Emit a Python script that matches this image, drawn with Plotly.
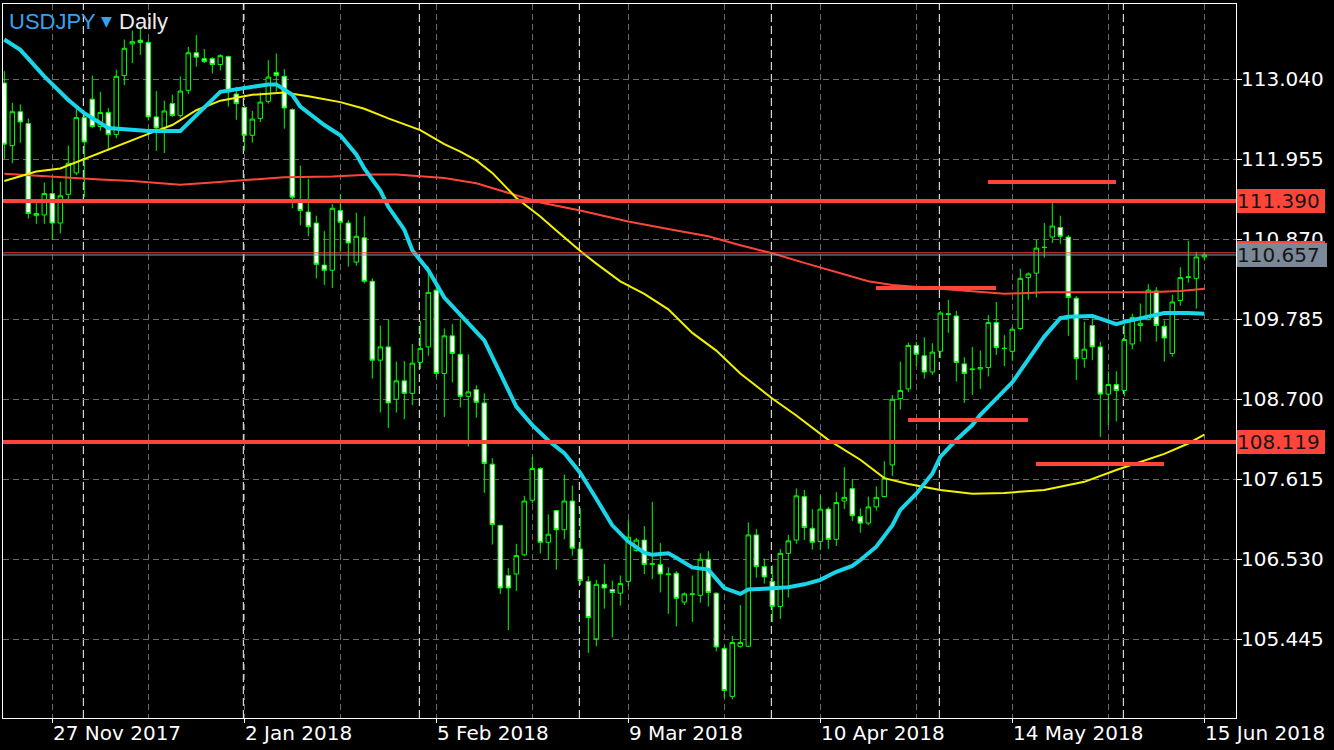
import plotly.graph_objects as go

# ---------------- data ----------------
bars = list(range(151))

opens = [112.99, 112.14, 112.60, 112.44, 111.19, 111.20, 111.49, 111.09, 111.48, 111.77,
         112.52, 112.77, 112.40, 112.59, 112.29, 113.09, 113.52, 113.57, 113.54, 112.53,
         112.38, 112.71, 112.55, 112.89, 113.40, 113.32, 113.32, 113.24, 113.35, 112.84,
         112.66, 112.28, 112.51, 112.74, 113.13, 113.08, 112.63, 111.38, 111.24, 111.09,
         110.52, 110.45, 111.26, 111.09, 110.56, 110.89, 110.30, 109.23, 109.41, 108.70,
         108.95, 108.78, 109.20, 109.41, 110.18, 109.05, 109.56, 109.31, 108.74, 108.83,
         108.65, 107.82, 106.99, 106.31, 106.33, 106.59, 107.33, 107.76, 106.76, 107.19,
         106.93, 107.32, 106.67, 106.23, 105.45, 106.19, 106.12, 106.07, 106.23, 106.65,
         106.79, 106.46, 106.46, 106.32, 106.34, 105.95, 106.05, 106.04, 106.53, 106.07,
         105.32, 104.67, 105.35, 105.35, 106.86, 106.43, 106.23, 105.89, 106.61, 106.79,
         107.38, 106.95, 106.77, 107.21, 106.80, 107.32, 107.49, 107.11, 107.02, 107.24,
         107.38, 107.81, 108.71, 108.84, 109.43, 109.29, 109.07, 109.35, 109.86, 109.83,
         109.18, 109.10, 109.11, 109.13, 109.74, 109.39, 109.35, 109.66, 110.35, 110.41,
         110.76, 110.90, 111.03, 110.90, 110.07, 109.25, 109.70, 109.41, 108.77, 108.90,
         108.82, 109.45, 109.70, 109.78, 110.17, 109.69, 109.32, 110.04, 110.35, 110.34,
         110.63]
highs = [113.15, 112.72, 112.70, 112.51, 111.40, 111.64, 111.68, 111.65, 112.14, 112.64,
         112.61, 113.09, 112.87, 112.65, 113.17, 113.58, 113.70, 113.74, 113.57, 112.88,
         112.75, 112.83, 113.08, 113.48, 113.64, 113.45, 113.34, 113.38, 113.36, 112.94,
         112.67, 112.61, 112.86, 113.30, 113.39, 113.18, 112.65, 111.87, 111.69, 111.19,
         110.98, 111.35, 111.48, 111.13, 111.23, 111.18, 110.34, 109.70, 109.78, 109.21,
         109.22, 109.45, 109.76, 110.50, 110.31, 109.66, 109.72, 109.79, 109.31, 108.89,
         108.78, 107.90, 107.00, 106.41, 106.74, 107.39, 107.92, 107.78, 107.14, 107.20,
         107.68, 107.53, 107.22, 106.30, 106.25, 106.47, 106.24, 106.31, 107.06, 106.82,
         106.98, 107.31, 106.75, 106.42, 106.37, 106.08, 106.31, 106.61, 106.64, 106.08,
         105.35, 105.49, 105.91, 107.03, 106.94, 106.54, 106.45, 106.67, 106.86, 107.49,
         107.47, 107.21, 107.40, 107.24, 107.44, 107.78, 107.62, 107.22, 107.38, 107.52,
         107.86, 108.76, 109.21, 109.47, 109.48, 109.54, 109.46, 109.90, 110.05, 109.90,
         109.27, 109.41, 109.36, 109.84, 110.02, 109.57, 109.68, 110.47, 110.42, 110.86,
         111.09, 111.37, 111.19, 110.93, 110.10, 109.75, 109.80, 109.48, 109.08, 109.08,
         109.72, 109.86, 110.00, 110.26, 110.22, 109.77, 110.12, 110.49, 110.85, 110.70,
         110.70]
lows = [111.96, 111.90, 112.18, 111.15, 111.08, 111.08, 110.86, 110.95, 111.36, 111.74,
        111.44, 112.38, 112.34, 112.07, 112.24, 112.96, 113.26, 113.37, 112.48, 112.07,
        112.04, 112.53, 112.52, 112.84, 113.21, 113.26, 113.12, 113.16, 112.67, 112.49,
        112.07, 112.18, 112.46, 112.71, 112.87, 112.37, 111.29, 111.06, 110.91, 110.34,
        110.25, 110.21, 110.70, 110.50, 110.51, 110.27, 108.98, 108.52, 108.31, 108.52,
        108.43, 108.62, 109.11, 109.29, 109.00, 108.46, 108.93, 108.59, 108.06, 108.45,
        107.43, 106.73, 106.06, 105.57, 106.10, 106.57, 107.29, 106.61, 106.53, 106.39,
        106.80, 106.58, 106.18, 105.26, 105.35, 105.86, 105.47, 105.90, 106.16, 106.63,
        106.33, 106.26, 106.08, 105.79, 105.62, 105.91, 105.68, 105.94, 105.89, 105.28,
        104.65, 104.63, 105.33, 105.34, 106.28, 106.20, 105.68, 105.72, 106.01, 106.74,
        106.79, 106.66, 106.66, 106.67, 106.71, 107.21, 107.05, 106.89, 106.99, 107.19,
        107.37, 107.66, 108.56, 108.80, 109.15, 108.98, 109.03, 109.26, 109.60, 108.94,
        108.65, 108.76, 108.84, 109.01, 109.30, 109.15, 109.22, 109.64, 110.05, 110.08,
        110.62, 110.82, 110.81, 109.56, 108.96, 109.13, 109.23, 108.19, 108.35, 108.40,
        108.74, 109.38, 109.48, 109.77, 109.48, 109.21, 109.28, 109.97, 110.28, 109.93,
        110.58]
closes = [112.16, 112.60, 112.46, 111.22, 111.22, 111.49, 111.09, 111.46, 111.90, 112.52,
          112.19, 112.40, 112.59, 112.29, 113.08, 113.46, 113.55, 113.54, 112.53, 112.38,
          112.61, 112.55, 112.88, 113.40, 113.34, 113.28, 113.24, 113.36, 112.87, 112.71,
          112.28, 112.50, 112.73, 113.07, 113.09, 112.65, 111.44, 111.26, 111.04, 110.53,
          110.45, 111.29, 111.10, 110.82, 110.91, 110.30, 109.23, 109.41, 108.65, 108.95,
          108.78, 109.19, 109.39, 110.15, 109.05, 109.56, 109.32, 108.74, 108.80, 108.66,
          107.83, 107.00, 106.14, 106.14, 106.58, 107.32, 107.76, 106.76, 106.87, 106.93,
          107.32, 106.68, 106.24, 105.74, 106.19, 106.14, 106.08, 106.20, 106.83, 106.79,
          106.46, 106.47, 106.33, 106.33, 106.00, 106.06, 106.06, 106.53, 106.08, 105.34,
          104.75, 105.40, 105.40, 106.86, 106.43, 106.29, 105.89, 106.61, 106.78, 107.39,
          106.96, 106.76, 107.21, 106.80, 107.30, 107.37, 107.12, 107.02, 107.24, 107.37,
          107.63, 108.70, 108.82, 109.43, 109.31, 109.07, 109.34, 109.87, 109.85, 109.20,
          109.05, 109.11, 109.13, 109.74, 109.40, 109.39, 109.65, 110.34, 110.40, 110.75,
          110.76, 111.05, 110.91, 110.08, 109.25, 109.38, 109.41, 108.77, 108.90, 108.82,
          109.51, 109.81, 109.73, 110.18, 109.70, 109.53, 110.02, 110.35, 110.36, 110.63,
          110.657]

# fast moving average (cyan)
ma_fast_bar = [0, 2, 5, 8, 10, 13, 18, 22, 27, 29, 31, 33, 34, 36, 37, 40, 42, 44, 45, 47,
               48, 50, 51, 53, 55, 57, 58, 60, 62, 64, 66, 68, 70, 72, 74, 76, 78, 80, 81, 83,
               84, 86, 88, 89, 90, 92, 93, 95, 98, 100, 102, 104, 106, 107, 109, 111, 112, 114,
               116, 117, 119, 121, 122, 126, 128, 130, 132, 133, 136, 138, 139, 140, 143, 145,
               148, 150]
ma_fast = [113.58, 113.44, 113.08, 112.76, 112.58, 112.38, 112.34, 112.34, 112.87, 112.90,
           112.93, 112.97, 112.97, 112.83, 112.67, 112.42, 112.28, 112.02, 111.83, 111.53,
           111.31, 111.00, 110.72, 110.45, 110.08, 109.84, 109.73, 109.50, 109.05, 108.60,
           108.35, 108.14, 107.97, 107.70, 107.35, 106.99, 106.77, 106.62, 106.59, 106.61,
           106.55, 106.42, 106.39, 106.27, 106.14, 106.06, 106.12, 106.13, 106.15, 106.19,
           106.25, 106.36, 106.44, 106.52, 106.70, 106.99, 107.20, 107.42, 107.69, 107.92,
           108.15, 108.35, 108.49, 108.93, 109.24, 109.55, 109.80, 109.82, 109.83, 109.75,
           109.72, 109.75, 109.82, 109.87, 109.87, 109.86]

# medium moving average (yellow)
ma_mid_bar = [0, 4, 7, 10, 13, 18, 21, 24, 27, 30, 31, 35, 38, 42, 45, 48, 52, 55, 57, 59,
              61, 64, 67, 69, 72, 74, 77, 80, 83, 86, 89, 92, 96, 99, 103, 107, 110, 113, 117,
              121, 125, 130, 135, 139, 143, 145, 148, 150]
ma_mid = [111.66, 111.79, 111.83, 111.96, 112.08, 112.30, 112.42, 112.62, 112.75, 112.81,
          112.83, 112.86, 112.81, 112.73, 112.64, 112.51, 112.35, 112.16, 112.06, 111.94,
          111.77, 111.43, 111.18, 110.99, 110.71, 110.54, 110.30, 110.13, 109.92, 109.60,
          109.36, 109.05, 108.71, 108.48, 108.15, 107.88, 107.63, 107.55, 107.47, 107.42,
          107.43, 107.47, 107.58, 107.74, 107.88, 107.96, 108.10, 108.22]

# slow moving average (red)
ma_slow_bar = [0, 4, 8, 12, 16, 22, 26, 30, 35, 41, 46, 49, 52, 55, 59, 63, 67, 72, 78, 84,
               88, 92, 96, 100, 104, 108, 111, 116, 122, 125, 130, 136, 143, 147, 150]
ma_slow = [111.76, 111.73, 111.70, 111.68, 111.66, 111.61, 111.64, 111.67, 111.71, 111.72,
           111.75, 111.75, 111.73, 111.70, 111.63, 111.50, 111.37, 111.26, 111.11, 110.99,
           110.91, 110.79, 110.68, 110.55, 110.43, 110.30, 110.25, 110.21, 110.16, 110.13,
           110.15, 110.15, 110.15, 110.17, 110.20]

# horizontal levels and short drawn segments
level_prices = [111.390, 108.119]
seg_prices = [111.647, 110.210, 108.419, 107.823]
seg_start_bar = [122.96, 108.96, 112.96, 128.96]
seg_end_bar = [138.96, 123.96, 127.96, 144.96]
bid_price = 110.657
ask_price = 110.686

# axes
ytick_vals = [113.040, 111.955, 110.870, 109.785, 108.700, 107.615, 106.530, 105.445]
xlabel_bars = [6, 30, 54, 78, 102, 126, 150]
xlabel_text = ["27 Nov 2017", "2 Jan 2018", "5 Feb 2018", "9 Mar 2018",
               "10 Apr 2018", "14 May 2018", "15 Jun 2018"]
grid_bars = [6, 18, 30, 42, 54, 66, 78, 90, 102, 114, 126, 138, 150]
month_start_bars = [10, 30, 52, 72, 96, 117, 140]

# ---------------- style ----------------
RED = '#ff453a'
GREEN = '#00ff00'
CYAN = '#18d6e8'
YELLOW = '#f2f200'
BLUE = '#36a2ec'
GRID = '#6a6a6a'
FONT = 'DejaVu Sans'
TFONT = 'Liberation Sans'

fig = go.Figure()

fig.add_trace(go.Candlestick(
    x=bars, open=opens, high=highs, low=lows, close=closes,
    increasing=dict(line=dict(color=GREEN, width=1), fillcolor='#000000'),
    decreasing=dict(line=dict(color=GREEN, width=1), fillcolor='#ffffff'),
    whiskerwidth=0, hoverinfo='skip', showlegend=False))

fig.add_trace(go.Scatter(x=ma_slow_bar, y=ma_slow, mode='lines',
                         line=dict(color=RED, width=2), hoverinfo='skip', showlegend=False))
fig.add_trace(go.Scatter(x=ma_mid_bar, y=ma_mid, mode='lines',
                         line=dict(color=YELLOW, width=2), hoverinfo='skip', showlegend=False))
fig.add_trace(go.Scatter(x=ma_fast_bar, y=ma_fast, mode='lines',
                         line=dict(color=CYAN, width=4), hoverinfo='skip', showlegend=False))

shapes = []
for b in month_start_bars:
    shapes.append(dict(type='line', xref='x', yref='paper', x0=b - 0.12, x1=b - 0.12,
                       y0=0, y1=1, layer='below',
                       line=dict(color='#ffffff', width=1, dash='8px,4px')))
for p in level_prices:
    shapes.append(dict(type='line', xref='paper', yref='y', x0=0, x1=1, y0=p, y1=p,
                       line=dict(color=RED, width=4)))
for p, s, e in zip(seg_prices, seg_start_bar, seg_end_bar):
    shapes.append(dict(type='line', xref='x', yref='y', x0=s, x1=e, y0=p, y1=p,
                       line=dict(color=RED, width=4)))
shapes.append(dict(type='line', xref='paper', yref='y', x0=0, x1=1, y0=ask_price, y1=ask_price,
                   line=dict(color=RED, width=1)))
shapes.append(dict(type='line', xref='paper', yref='y', x0=0, x1=1, y0=bid_price, y1=bid_price,
                   line=dict(color='#8a97a5', width=1)))

annotations = []
# title pieces (pixel offsets from the plot's left edge)
title_parts = [("USDJPY", BLUE, TFONT, 22, 4),
               ("▼", BLUE, FONT, 14, 96),
               ("Daily", '#ececec', TFONT, 22, 114)]
for t, c, f, s, dx in title_parts:
    annotations.append(dict(xref='paper', yref='paper', x=0, y=1, xanchor='left',
                            yanchor='middle', xshift=dx, yshift=-17, showarrow=False,
                            text=t, font=dict(family=f, size=s, color=c)))
# x labels (left-aligned at their ticks)
for b, t in zip(xlabel_bars, xlabel_text):
    annotations.append(dict(xref='x', yref='paper', x=b, y=0, xanchor='left', yanchor='middle',
                            yshift=-14.5, xshift=-1, showarrow=False, text=t,
                            font=dict(family=FONT, size=20, color='#ffffff')))
# price boxes on the right
box_specs = [(ask_price, f"{ask_price:.3f}", RED, 88),
             (bid_price, f"{bid_price:.3f}", '#7b8897', 90),
             (level_prices[0], f"{level_prices[0]:.3f}", RED, 88),
             (level_prices[1], f"{level_prices[1]:.3f}", RED, 88)]
for p, t, c, w in box_specs:
    annotations.append(dict(xref='paper', yref='y', x=1, y=p, xanchor='left', yanchor='middle',
                            xshift=1, showarrow=False, text=t, bgcolor=c, width=w, height=24,
                            align='left', borderpad=0, borderwidth=0,
                            font=dict(family=FONT, size=20, color='#161616')))

fig.update_layout(
    width=1334, height=750,
    margin=dict(l=3, r=98, t=4, b=32),
    paper_bgcolor='#000000', plot_bgcolor='#000000',
    showlegend=False, hovermode=False,
    boxgap=0.25, boxgroupgap=0.25,
    shapes=shapes, annotations=annotations,
    xaxis=dict(range=[-0.1625, 153.9625], rangeslider=dict(visible=False),
               tickvals=xlabel_bars, showticklabels=False,
               ticks='outside', ticklen=4, tickcolor='#ffffff', tickwidth=1,
               showgrid=True, gridcolor=GRID, griddash='6px,4px', gridwidth=1,
               minor=dict(tickvals=[b for b in grid_bars if b not in xlabel_bars],
                          showgrid=True, gridcolor=GRID, griddash='6px,4px', gridwidth=1,
                          ticks=''),
               showline=True, mirror=True, linecolor='#ffffff', linewidth=1,
               zeroline=False, fixedrange=True),
    yaxis=dict(range=[104.377, 114.061], side='right',
               tickvals=ytick_vals, tickformat='.3f',
               ticks='outside', ticklen=5, tickcolor='#ffffff', tickwidth=1,
               ticklabelstandoff=-5,
               tickfont=dict(family=FONT, size=20, color='#ffffff'),
               showgrid=True, gridcolor=GRID, griddash='6px,4px', gridwidth=1,
               showline=True, mirror=True, linecolor='#ffffff', linewidth=1,
               zeroline=False, fixedrange=True),
)

fig.write_html("out.html",
               config={'displayModeBar': False, 'staticPlot': True},
               post_script="document.body.style.margin='0px';"
                           "document.body.style.overflow='hidden';")
